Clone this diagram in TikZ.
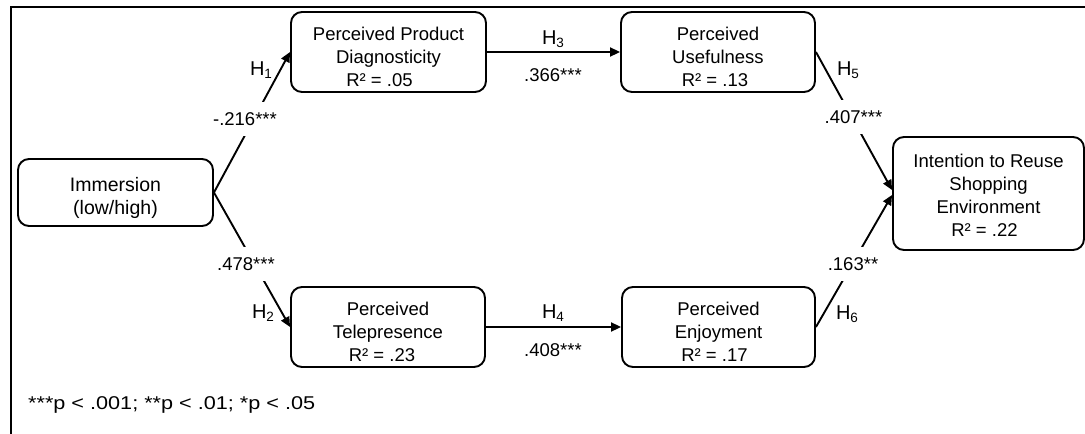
\documentclass[tikz,border=0pt]{standalone}
\usepackage{fontspec}
\usepackage{graphicx}
\setmainfont{Liberation Sans}
\usetikzlibrary{arrows.meta,calc}
\newcommand{\hyp}[1]{H\raisebox{-3pt}{\fontsize{13.5}{13.5}\selectfont #1}}
\begin{document}
\begin{tikzpicture}[x=1pt,y=-1pt,
  box/.style={draw,line width=1.9pt,rounded corners=11pt,inner sep=0pt},
  txt/.style={font=\fontsize{18.5}{22.8}\selectfont,align=center,inner sep=0pt},
  hlbl/.style={font=\fontsize{20}{20}\selectfont,inner sep=0pt},
  coef/.style={font=\fontsize{18.5}{20}\selectfont,inner sep=0pt},
  gapcoef/.style={coef,fill=white,inner xsep=4pt,inner ysep=10.5pt},
  arr/.style={line width=1.9pt,-{Triangle[length=10pt,width=9pt]}},
]
\useasboundingbox (0,0) rectangle (1085,434);

% open frame: left and top edges only
\coordinate (fbl) at (11,434);
\coordinate (ftl) at (11,7);
\coordinate (ftr) at (1085,7);
\draw[line width=1.9pt] (fbl) -- (ftl) -- (ftr);

% construct boxes
\node[box,minimum width=195pt,minimum height=67pt] (imm) at (115.5,192.5) {};
\node[box,minimum width=195pt,minimum height=80pt] (ppd) at (388.5,52) {};
\node[box,minimum width=194pt,minimum height=80pt] (pu)  at (718,52) {};
\node[box,minimum width=194pt,minimum height=80pt] (pt)  at (388,327) {};
\node[box,minimum width=193pt,minimum height=80pt] (pe)  at (718.5,327) {};
\node[box,minimum width=191pt,minimum height=113pt] (int) at (988.5,193.5) {};

% box texts
\node[txt,font=\fontsize{19.5}{23.6}\selectfont] (immtxt) at ($(imm)+(0,5.3)$) {Immersion\\(low/high)};
\node[txt] (ppdtxt) at ($(ppd)+(0,4.6)$) {Perceived Product\\Diagnosticity\\R² = .05\hspace*{18pt}};
\node[txt] (putxt)  at ($(pu)+(0,4.6)$)  {Perceived\\Usefulness\\R² = .13\hspace*{6pt}};
\node[txt] (pttxt)  at ($(pt)+(0,4.6)$)  {Perceived\\Telepresence\\R² = .23\hspace*{12pt}};
\node[txt] (petxt)  at ($(pe)+(0,4.6)$)  {Perceived\\Enjoyment\\R² = .17\hspace*{8pt}};
\node[txt] (inttxt) at ($(int)+(0,1.8)$) {Intention to Reuse\\Shopping\\Environment\\R² = .22\hspace*{8pt}};

% paths
\coordinate (intU) at ($(int.west)+(0,-3.5)$);
\coordinate (intD) at ($(int.west)+(0,1.5)$);
\draw[arr] (imm.east) -- (ppd.west);
\draw[arr] (imm.east) -- (pt.west);
\draw[arr] (ppd.east) -- (pu.west);
\draw[arr] (pt.east) -- (pe.west);
\draw[arr] (pu.east) -- (intU);
\draw[arr] (pe.east) -- (intD);

% hypothesis labels
\node[hlbl] (h1) at (261,70)  {\hyp{1}};
\node[hlbl] (h2) at (263,313) {\hyp{2}};
\node[hlbl] (h3) at (553,39)  {\hyp{3}};
\node[hlbl] (h4) at (553,313) {\hyp{4}};
\node[hlbl] (h5) at (848,70)  {\hyp{5}};
\node[hlbl] (h6) at (847,314) {\hyp{6}};

% path coefficients
\node[gapcoef] (c1) at (245,119)   {-.216***};
\node[gapcoef] (c2) at (246,264)   {.478***};
\node[coef]    (c3) at (553,75)    {.366***};
\node[coef]    (c4) at (553,350)   {.408***};
\node[gapcoef] (c5) at (853.5,117) {.407***};
\node[gapcoef] (c6) at (853,264)   {.163**};

% significance note
\node[coef,anchor=west] (note) at (28,405) {\scalebox{1.17}[1]{***p < .001; **p < .01; *p < .05}};
\end{tikzpicture}
\end{document}
